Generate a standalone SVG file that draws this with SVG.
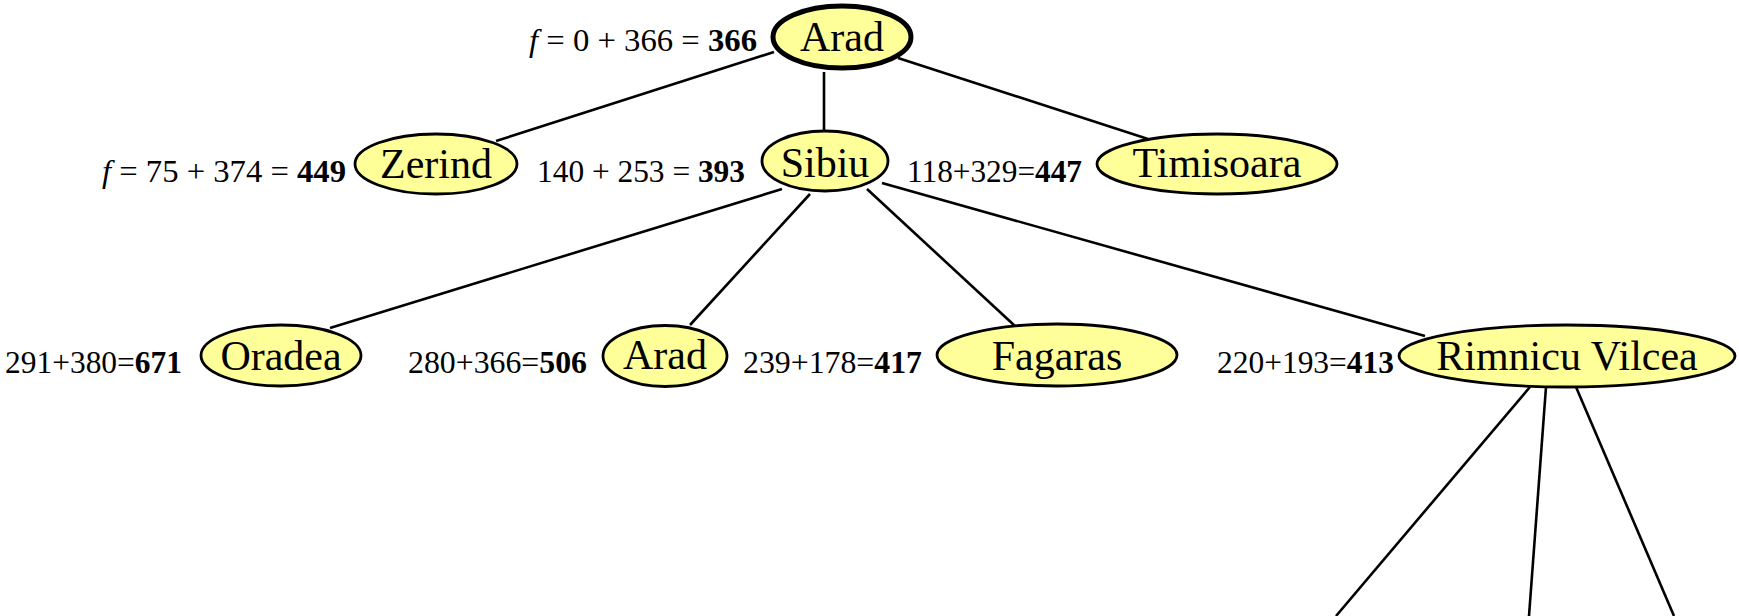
<svg xmlns="http://www.w3.org/2000/svg" width="1739" height="616" viewBox="0 0 1739 616">
<style>
.bg{fill:#ffffff}
.node ellipse{fill:#ffff99;stroke:#000;stroke-width:2.8}
.node.root ellipse{stroke-width:5}
.node text{font-family:"Liberation Serif","Times New Roman",serif;font-size:42px;text-anchor:middle;fill:#000}
.lbl{font-family:"Liberation Serif","Times New Roman",serif;font-size:32px;fill:#000}
.lbl .b{font-weight:bold}
.lbl .i{font-style:italic}
#connectors line{stroke:#000;stroke-width:2.6}
</style>
<rect class="bg" x="0" y="0" width="1739" height="616"/>
<g id="connectors">
<line x1="774" y1="52" x2="496" y2="141"/>
<line x1="824" y1="72" x2="824" y2="131"/>
<line x1="898" y1="58" x2="1148" y2="139"/>
<line x1="782" y1="189" x2="330" y2="328"/>
<line x1="810" y1="194" x2="690" y2="325"/>
<line x1="867" y1="189" x2="1015" y2="326"/>
<line x1="882" y1="183" x2="1425" y2="336"/>
<line x1="1530" y1="387" x2="1336" y2="616"/>
<line x1="1546" y1="387" x2="1529" y2="616"/>
<line x1="1576" y1="387" x2="1674" y2="616"/>
</g>
<g id="labels">
<text class="lbl" x="529" y="51" textLength="228" lengthAdjust="spacingAndGlyphs"><tspan class="i">f</tspan> = 0 + 366 = <tspan class="b">366</tspan></text>
<text class="lbl" x="102" y="182" textLength="244" lengthAdjust="spacingAndGlyphs"><tspan class="i">f</tspan> = 75 + 374 = <tspan class="b">449</tspan></text>
<text class="lbl" x="537" y="182" textLength="208" lengthAdjust="spacingAndGlyphs">140 + 253 = <tspan class="b">393</tspan></text>
<text class="lbl" x="907" y="182" textLength="175" lengthAdjust="spacingAndGlyphs">118+329=<tspan class="b">447</tspan></text>
<text class="lbl" x="5" y="373" textLength="177" lengthAdjust="spacingAndGlyphs">291+380=<tspan class="b">671</tspan></text>
<text class="lbl" x="408" y="373" textLength="179" lengthAdjust="spacingAndGlyphs">280+366=<tspan class="b">506</tspan></text>
<text class="lbl" x="743" y="373" textLength="179" lengthAdjust="spacingAndGlyphs">239+178=<tspan class="b">417</tspan></text>
<text class="lbl" x="1217" y="373" textLength="177" lengthAdjust="spacingAndGlyphs">220+193=<tspan class="b">413</tspan></text>
</g>
<g id="n-arad" class="node root"><ellipse cx="842" cy="37" rx="69" ry="31"/><text x="842" y="51">Arad</text></g>
<g id="n-zerind" class="node"><ellipse cx="436" cy="164" rx="81" ry="30"/><text x="436" y="178">Zerind</text></g>
<g id="n-sibiu" class="node"><ellipse cx="825" cy="161" rx="63" ry="30"/><text x="825" y="177">Sibiu</text></g>
<g id="n-timisoara" class="node"><ellipse cx="1217" cy="164" rx="120" ry="30"/><text x="1217" y="177">Timisoara</text></g>
<g id="n-oradea" class="node"><ellipse cx="281" cy="355.5" rx="80" ry="30.5"/><text x="281" y="370">Oradea</text></g>
<g id="n-arad2" class="node"><ellipse cx="665" cy="356" rx="62" ry="30.5"/><text x="665" y="369">Arad</text></g>
<g id="n-fagaras" class="node"><ellipse cx="1057" cy="355" rx="120" ry="31"/><text x="1057" y="370">Fagaras</text></g>
<g id="n-rimnicu" class="node"><ellipse cx="1567" cy="356" rx="168" ry="31"/><text x="1567" y="370">Rimnicu Vilcea</text></g>
</svg>
